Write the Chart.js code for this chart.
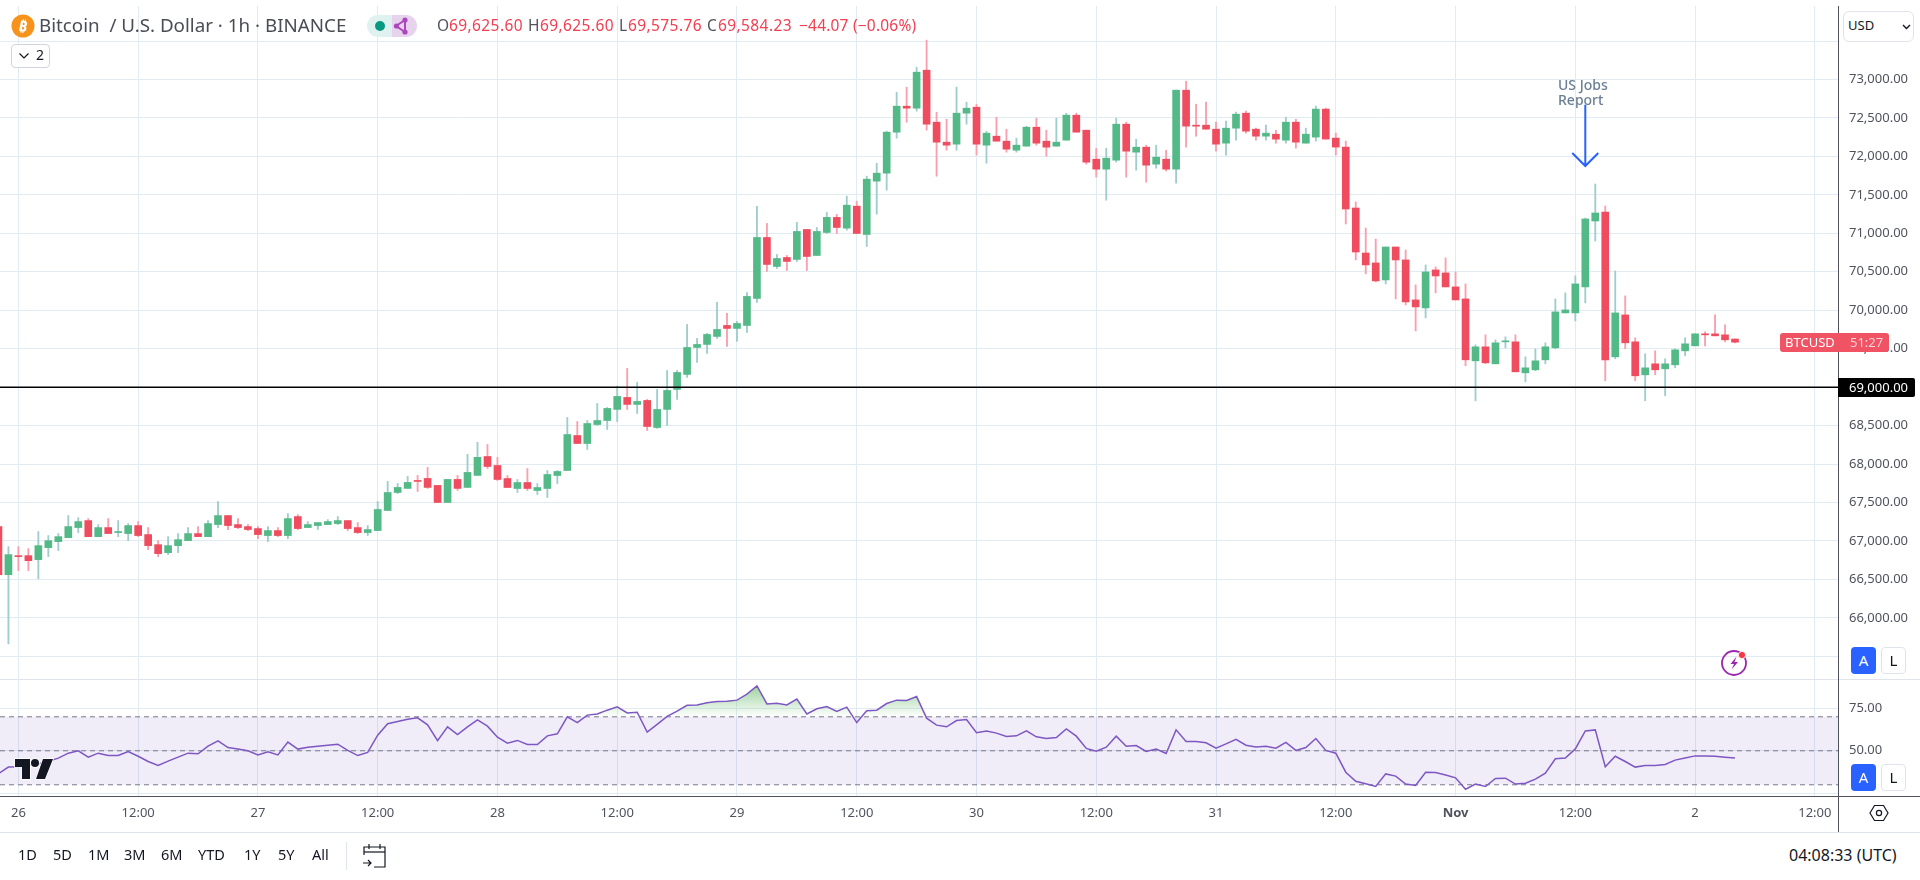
<!DOCTYPE html>
<html>
<head>
<meta charset="utf-8">
<title>BTCUSD</title>
<script src="https://cdn.jsdelivr.net/npm/chart.js@4/dist/chart.umd.min.js"></script>
<style>
  html, body { margin: 0; padding: 0; background: #fff; overflow: hidden; }
  body { width: 1920px; height: 880px; position: relative; font-family: "Noto Sans", sans-serif; color: #50535e; }
  canvas { position: absolute; left: 0; }
  #priceCanvas { top: 0; }
  #rsiCanvas { top: 679px; }
  .abs { position: absolute; white-space: nowrap; line-height: 1; }
  .line { position: absolute; }
  .red { color: #f23f52; }
  .ohlc { top: 18px; font-size: 15.5px; letter-spacing: 0.4px; }
  .ab { position: absolute; width: 25px; height: 27px; border-radius: 4px; text-align: center; font-size: 15px; line-height: 27px; box-sizing: border-box; }
  .ab.on { background: #2962ff; color: #fff; }
  .ab.off { border: 1px solid #e0e3eb; color: #131722; background: #fff; line-height: 25px; }
  .range span { position: absolute; top: 0; line-height: 1; color: #131722; }
</style>
</head>
<body>
<canvas id="priceCanvas" width="1920" height="680"></canvas>
<canvas id="rsiCanvas" width="1920" height="153"></canvas>

<!-- pane borders -->
<div class="line" style="left:0;top:679px;width:1920px;height:1px;background:#e0e3eb"></div>
<div class="line" style="left:0;top:796px;width:1920px;height:1px;background:#50535e"></div>
<div class="line" style="left:0;top:832px;width:1920px;height:1px;background:#e0e3eb"></div>
<div class="line" style="left:1838px;top:6px;width:1px;height:826px;background:#50535e"></div>

<!-- header -->
<svg class="line" style="left:11px;top:14px" width="24" height="24" viewBox="0 0 24 24">
  <circle cx="12" cy="12" r="11.5" fill="#f7931a"/>
  <text x="12" y="17.5" text-anchor="middle" font-family="Noto Sans" font-weight="700" font-size="15" fill="#fff" transform="rotate(12 12 12)">₿</text>
</svg>
<div class="abs" style="left:39px;top:16px;font-size:18.8px;color:#4a4d55">Bitcoin&nbsp; / U.S. Dollar · 1h · BINANCE</div>
<div class="line" style="left:367px;top:15px;width:25px;height:22px;background:#e0f2ef;border-radius:11px 0 0 11px"></div>
<div class="line" style="left:392px;top:15px;width:25px;height:22px;background:#e8d3ee;border-radius:0 11px 11px 0"></div>
<div class="line" style="left:375px;top:21px;width:10px;height:10px;background:#089981;border-radius:50%"></div>
<svg class="line" style="left:393px;top:17px" width="20" height="18" viewBox="0 0 20 18">
  <path d="M3 9 L12 3 L12 15 Z" fill="none" stroke="#ab47bc" stroke-width="2"/>
  <circle cx="3.5" cy="9" r="2.6" fill="#ab47bc"/><circle cx="12" cy="3" r="2.6" fill="#ab47bc"/><circle cx="12" cy="15" r="2.6" fill="#ab47bc"/>
</svg>
<div class="abs ohlc" style="left:437px">O</div>
<div class="abs ohlc red" style="left:449px">69,625.60</div>
<div class="abs ohlc" style="left:528px">H</div>
<div class="abs ohlc red" style="left:540px">69,625.60</div>
<div class="abs ohlc" style="left:619px">L</div>
<div class="abs ohlc red" style="left:628px">69,575.76</div>
<div class="abs ohlc" style="left:707px">C</div>
<div class="abs ohlc red" style="left:718px">69,584.23</div>
<div class="abs ohlc red" style="left:799px;letter-spacing:0.2px">−44.07 (−0.06%)</div>

<div class="line" style="left:11px;top:44px;width:39px;height:24px;box-sizing:border-box;border:1px solid #d1d4dc;border-radius:4px;background:#fff"></div>
<svg class="line" style="left:18px;top:52px" width="12" height="8" viewBox="0 0 12 8"><path d="M1.5 1.5 L6 6 L10.5 1.5" fill="none" stroke="#131722" stroke-width="1.2"/></svg>
<div class="abs" style="left:36px;top:48px;font-size:14px;color:#131722">2</div>

<!-- currency box -->
<div class="line" style="left:1843px;top:11px;width:71px;height:31px;box-sizing:border-box;border:1px solid #e0e3eb;border-radius:6px;background:#fff"></div>
<div class="abs" style="left:1848px;top:19px;font-size:13px;color:#131722">USD</div>
<svg class="line" style="left:1902px;top:24px" width="9" height="6" viewBox="0 0 9 6"><path d="M1 1 L4.5 4.5 L8 1" fill="none" stroke="#131722" stroke-width="1.4"/></svg>

<!-- annotation text -->
<div class="abs" style="left:1558px;top:77px;font-size:14px;font-weight:500;color:#6a7f94;line-height:15px">US Jobs<br>Report</div>

<!-- price tags -->
<div class="line" style="left:1780px;top:333px;width:109px;height:19px;background:#ef5364;border-radius:3px"></div>
<div class="abs" style="left:1785px;top:336px;font-size:13px;color:#fff">BTCUSD</div>
<div class="abs" style="left:1850px;top:336px;font-size:13px;color:#fbd5da">51:27</div>
<div class="line" style="left:1838px;top:378px;width:77px;height:19px;background:#000;border-radius:0 2px 2px 0"></div>
<div class="abs" style="left:1849px;top:381px;font-size:13px;color:#fff">69,000.00</div>

<!-- scale mode buttons -->
<div class="ab on" style="left:1851px;top:647px">A</div>
<div class="ab off" style="left:1881px;top:647px">L</div>
<div class="ab on" style="left:1851px;top:764px">A</div>
<div class="ab off" style="left:1881px;top:764px">L</div>

<!-- flash icon -->
<svg class="line" style="left:1720px;top:648px" width="30" height="30" viewBox="0 0 30 30">
  <circle cx="14" cy="15" r="12" fill="none" stroke="#9c27b0" stroke-width="1.8"/>
  <path d="M16.5 8.5 L10.5 16 L14 16 L11.5 21.5 L18 14 L14.5 14 Z" fill="#9c27b0"/>
  <circle cx="22" cy="7" r="3.6" fill="#f23645" stroke="#fff" stroke-width="0.8"/>
</svg>

<!-- watermark -->
<svg class="line" style="left:13px;top:757px" width="42" height="24" viewBox="0 0 42 24">
  <g fill="#131722" stroke="#fff" stroke-width="1.6" paint-order="stroke">
    <path d="M2 2 H17 V22 H9 V10 H2 Z"/>
    <circle cx="22" cy="6" r="4"/>
    <path d="M30 2 H40 L32 22 H23 Z"/>
  </g>
</svg>

<!-- settings hexagon -->
<svg class="line" style="left:1869px;top:803px" width="20" height="20" viewBox="0 0 20 20">
  <path d="M5.5 2.5 H14.5 L19 10 L14.5 17.5 H5.5 L1 10 Z" fill="none" stroke="#131722" stroke-width="1.2"/>
  <circle cx="10" cy="10" r="2.6" fill="none" stroke="#131722" stroke-width="1.2"/>
</svg>

<!-- bottom toolbar -->
<div class="range" style="position:absolute;left:0;top:847px;font-size:14.5px">
  <span style="left:18px">1D</span><span style="left:53px">5D</span><span style="left:88px">1M</span>
  <span style="left:124px">3M</span><span style="left:161px">6M</span><span style="left:198px">YTD</span>
  <span style="left:244px">1Y</span><span style="left:278px">5Y</span><span style="left:312px">All</span>
</div>
<div class="line" style="left:346px;top:842px;width:1px;height:28px;background:#e0e3eb"></div>
<svg class="line" style="left:362px;top:842px" width="26" height="28" viewBox="0 0 26 28">
  <g fill="none" stroke="#131722" stroke-width="1.2">
    <path d="M2 13 V5 H23 V25 H12"/><path d="M2 10 H23"/><path d="M7 2 V7 M18 2 V7"/>
    <path d="M1 21 H9 M6 18 L9 21 L6 24"/>
  </g>
</svg>
<div class="abs" style="left:1789px;top:847px;font-size:16px;color:#131722">04:08:33 (UTC)</div>

<script>
// BTCUSD 1h, hourly bars from just before Oct 26 to Nov 2
const opens = [
  67187,66561,66809,66809,66757,66913,66991,67043,67174,67265,67056,67174,
  67109,67096,67200,67083,66952,66848,66939,67004,67096,67056,67213,67330,
  67213,67187,67161,67070,67135,67070,67317,67174,67200,67213,67226,67265,
  67174,67109,67135,67396,67630,67683,67787,67813,67722,67500,67800,67696,
  67852,68098,67981,67812,67682,67760,67656,67682,67851,67916,68371,68267,
  68514,68566,68710,68866,68775,68827,68475,68710,68970,69165,69516,69555,
  69659,69802,69763,69802,70153,70946,70569,70686,70660,71050,70712,71011,
  71207,71067,71353,70985,71678,71782,72315,72653,72627,73121,72445,72185,
  72159,72562,72640,72146,72263,72198,72081,72133,72380,72198,72133,72211,
  72536,72341,71964,71834,71951,72419,72055,72120,71899,71964,71834,72861,
  72406,72406,72354,72172,72367,72562,72354,72263,72289,72211,72445,72172,
  72251,72615,72238,72121,71329,70744,70615,70394,70822,70654,70134,70030,
  70524,70485,70303,70147,69342,69524,69303,69589,69589,69186,69225,69355,
  69511,69965,69965,70303,71160,71277,69394,69939,69589,69160,69303,69238,
  69290,69472,69537,69693,69693,69680,69625.6
];
const highs = [
  67200,66926,66926,66900,67122,67070,67096,67330,67304,67291,67213,67291,
  67265,67226,67252,67174,67004,67056,67096,67174,67187,67265,67513,67330,
  67291,67213,67187,67187,67174,67356,67343,67252,67239,67278,67317,67265,
  67239,67200,67513,67774,67748,67839,67852,67956,67722,67800,67852,68126,
  68283,68254,68085,67851,67799,67942,67747,67916,67916,68605,68553,68566,
  68788,68736,69013,69243,69061,68840,68970,69217,69217,69815,69633,69698,
  70101,69958,69854,70231,71350,71129,70725,70712,71142,71050,71076,71272,
  71246,71483,71418,71743,71912,72328,72835,72900,73160,73512,72575,72484,
  72900,72705,72679,72328,72510,72354,72237,72393,72497,72341,72497,72562,
  72562,72341,72107,72107,72497,72445,72224,72146,72146,72081,72861,72978,
  72679,72705,72445,72458,72575,72588,72367,72406,72341,72510,72484,72367,
  72654,72628,72303,72199,71407,71069,70926,70822,70822,70783,70329,70589,
  70563,70680,70498,70342,69550,69680,69615,69654,69680,69394,69498,69576,
  70147,70225,70446,71199,71641,71355,70511,70186,69641,69433,69472,69368,
  69498,69641,69693,69718,69939,69809,69625.6
];
const lows = [
  66540,65661,66613,66613,66509,66796,66874,67043,67109,67056,67056,67096,
  67056,67004,67056,66887,66796,66822,66848,67004,67056,67056,67174,67148,
  67161,67135,67030,66991,67056,67030,67148,67174,67148,67213,67213,67135,
  67096,67070,67135,67396,67617,67683,67643,67683,67500,67500,67657,67696,
  67852,67942,67786,67695,67630,67656,67604,67565,67747,67916,68267,68189,
  68501,68449,68553,68710,68657,68436,68462,68501,68840,69126,69321,69438,
  69633,69529,69594,69711,70101,70504,70543,70517,70634,70517,70712,70998,
  70998,71041,70998,70829,71249,71561,72237,72445,72588,72341,71743,72081,
  72081,72419,72016,71912,72198,72055,72055,72133,72146,72003,72133,72211,
  72315,71899,71730,71431,71925,71730,71821,71665,71847,71808,71652,72120,
  72263,72354,72068,72016,72211,72302,72211,72211,72172,72172,72107,72172,
  72199,72225,72017,71121,70654,70472,70368,70342,70147,70069,69732,69900,
  70225,70303,70134,69277,68823,69303,69303,69511,69199,69069,69212,69303,
  69498,69965,69861,70095,70900,69082,69368,69498,69082,68823,69160,68887,
  69251,69407,69537,69537,69667,69589,69575.76
];
const closes = [
  66561,66822,66796,66743,66939,67004,67056,67187,67252,67056,67174,67096,
  67122,67200,67070,66939,66835,66939,67017,67096,67056,67226,67330,67200,
  67174,67148,67083,67135,67070,67291,67161,67213,67239,67252,67265,67161,
  67109,67148,67409,67630,67696,67761,67774,67696,67500,67800,67683,67891,
  68087,67968,67799,67695,67760,67682,67695,67864,67903,68384,68267,68527,
  68566,68723,68879,68775,68814,68488,68710,68957,69191,69516,69555,69685,
  69750,69763,69828,70179,70946,70595,70673,70634,71024,70699,71024,71207,
  71076,71366,70998,71704,71782,72315,72653,72627,73095,72419,72185,72146,
  72562,72627,72159,72302,72198,72094,72146,72380,72172,72120,72185,72536,
  72315,71925,71834,71977,72419,72068,72120,71886,71990,71834,72861,72393,
  72393,72354,72159,72367,72549,72328,72263,72302,72224,72445,72185,72289,
  72615,72225,72121,71316,70757,70589,70381,70822,70654,70108,70043,70498,
  70446,70303,70134,69355,69524,69316,69576,69602,69199,69251,69342,69524,
  69978,70004,70342,71186,71264,69355,69965,69576,69147,69251,69225,69303,
  69485,69563,69693,69680,69667,69615,69584.23
];
const rsiValues = [
  36.5,40.4,40.6,41.2,42.3,43.9,45.7,48.6,50.0,46.3,48.6,47.2,
  47.2,49.6,46.8,43.7,41.4,43.9,46.3,48.6,48.2,52.7,55.9,51.9,
  51.0,50.0,47.6,49.4,47.6,55.1,51.0,52.1,52.7,53.3,53.9,50.2,
  47.2,49.0,59.2,65.9,67.2,68.6,69.4,65.3,55.9,64.1,59.6,64.1,
  68.2,64.5,58.0,54.5,56.1,53.7,53.7,58.8,60.0,70.0,66.6,71.0,
  71.7,73.9,75.9,72.3,72.7,61.0,65.5,70.2,73.3,76.8,77.0,78.2,
  79.0,79.2,79.8,83.3,88.2,77.6,78.0,77.0,80.4,71.7,74.7,76.0,
  73.1,75.7,66.6,73.5,73.9,77.8,79.8,79.6,81.9,69.2,65.1,64.1,
  67.8,68.4,60.6,61.7,60.4,58.4,58.8,61.7,58.2,57.2,57.8,62.9,
  58.6,51.4,49.8,52.1,58.6,52.7,53.1,49.6,51.0,48.4,62.3,55.5,
  55.5,54.7,51.5,54.1,56.8,53.3,52.3,52.7,51.5,54.9,50.2,51.9,
  57.2,50.2,48.6,37.4,32.1,30.6,29.0,36.4,35.1,30.4,29.6,37.4,
  37.2,35.7,34.1,27.4,30.4,29.0,33.7,33.9,30.4,30.9,33.3,36.8,
  45.3,45.7,51.1,61.7,62.3,40.6,46.8,43.7,40.4,41.3,41.3,41.9,
  44.5,45.7,47.0,47.0,46.8,46.2,45.7
];

// first bar sits two hours before the "26" tick
const barIndex = opens.map((_, i) => i - 2);

const priceTicks = [73500,73000,72500,72000,71500,71000,70500,70000,69500,69000,68500,68000,67500,67000,66500,66000,65500];
const hiddenPriceLabels = [73500, 65500];
const rsiTicks = [75, 50, 25];
const hiddenRsiLabels = [25];
const rsiBands = [70, 50, 30];
const timeTicks = [0,12,24,36,48,60,72,84,96,108,120,132,144,156,168,180];
const timeLabels = ["26","12:00","27","12:00","28","12:00","29","12:00","30","12:00","31","12:00","Nov","12:00","2","12:00"];

const supportLevel = 69000;
const jobsArrowBar = 157;
const jobsArrowFrom = 72670;
const jobsArrowTo = 71875;

const xMin = -1.844;
const xMax = 182.32;

const UP = "#53b987";
const DOWN = "#ef4d5f";
const UP_WICK = "#9fcdcd";
const DOWN_WICK = "#f99fad";
const GRID = "#e1ecf2";
const TEXT = "#50535e";
const AXIS_FONT = { family: "Noto Sans", size: 13 };

const isUp = barIndex.map((_, i) => closes[i] >= opens[i]);

// keep the plot areas at exact sizes, labels must not push them in
function fixAxisSize(axis, size) {
  if (axis.isHorizontal()) axis.height = size;
  else axis.width = size;
  axis.paddingTop = 0;
  axis.paddingBottom = 0;
  axis.paddingLeft = 0;
  axis.paddingRight = 0;
}

const xScaleBase = {
  type: "linear",
  min: xMin,
  max: xMax,
  offset: false,
  border: { display: false },
  grid: { color: GRID, drawTicks: false, offset: false },
  afterBuildTicks: axis => { axis.ticks = timeTicks.map(value => ({ value })); }
};

// blue arrow over the jobs report bar
const jobsArrowPlugin = {
  id: "jobsArrow",
  afterDatasetsDraw(chart) {
    const { x, y } = chart.scales;
    const px = x.getPixelForValue(jobsArrowBar);
    const top = y.getPixelForValue(jobsArrowFrom);
    const tip = y.getPixelForValue(jobsArrowTo);
    const ctx = chart.ctx;
    ctx.save();
    ctx.strokeStyle = "#2962ff";
    ctx.lineWidth = 2;
    ctx.beginPath();
    ctx.moveTo(px, top);
    ctx.lineTo(px, tip);
    ctx.moveTo(px - 13, tip - 13);
    ctx.lineTo(px, tip);
    ctx.lineTo(px + 13, tip - 13);
    ctx.stroke();
    ctx.restore();
  }
};

new Chart(document.getElementById("priceCanvas"), {
  data: {
    datasets: [
      {
        type: "line",
        order: 0,
        data: [{ x: xMin, y: supportLevel }, { x: xMax, y: supportLevel }],
        borderColor: "#000",
        borderWidth: 1.5,
        pointRadius: 0
      },
      {
        type: "bar",
        order: 1,
        grouped: false,
        barThickness: 7,
        minBarLength: 1,
        borderSkipped: false,
        data: barIndex.map((x, i) => ({ x, y: [opens[i], closes[i]] })),
        backgroundColor: isUp.map(up => (up ? UP : DOWN))
      },
      {
        type: "bar",
        order: 2,
        grouped: false,
        barThickness: 1.2,
        borderSkipped: false,
        data: barIndex.map((x, i) => ({ x, y: [lows[i], highs[i]] })),
        backgroundColor: isUp.map(up => (up ? UP_WICK : DOWN_WICK))
      }
    ]
  },
  options: {
    responsive: false,
    animation: false,
    devicePixelRatio: 1,
    layout: { autoPadding: false, padding: { top: 6, left: 0, right: 0, bottom: 1 } },
    plugins: { legend: { display: false }, tooltip: { enabled: false } },
    scales: {
      x: {
        ...xScaleBase,
        ticks: { display: false },
        afterFit: axis => fixAxisSize(axis, 0)
      },
      y: {
        position: "right",
        min: 65205,
        max: 73955.6,
        border: { display: false },
        grid: { color: GRID, drawTicks: false },
        afterBuildTicks: axis => { axis.ticks = priceTicks.map(value => ({ value })); },
        afterFit: axis => fixAxisSize(axis, 82),
        ticks: {
          autoSkip: false,
          padding: 11,
          color: TEXT,
          font: AXIS_FONT,
          callback: value => hiddenPriceLabels.includes(value)
            ? ""
            : value.toLocaleString("en-US", { minimumFractionDigits: 2 })
        }
      }
    }
  },
  plugins: [jobsArrowPlugin]
});

const rsiChart = new Chart(document.getElementById("rsiCanvas"), {
  type: "line",
  data: {
    datasets: [
      {
        data: barIndex.map((x, i) => ({ x, y: rsiValues[i] })),
        borderColor: "#7e57c2",
        borderWidth: 1.5,
        pointRadius: 0,
        tension: 0,
        fill: { value: rsiBands[0], above: "rgba(76,175,80,0.3)", below: "transparent" }
      },
      {
        // purple band between the upper and lower levels
        data: [{ x: xMin, y: rsiBands[0] }, { x: xMax, y: rsiBands[0] }],
        borderWidth: 0,
        pointRadius: 0,
        fill: { value: rsiBands[2], above: "rgba(126,87,194,0.115)", below: "rgba(126,87,194,0.115)" }
      },
      ...rsiBands.map(level => ({
        data: [{ x: xMin, y: level }, { x: xMax, y: level }],
        borderColor: "#787b86",
        borderWidth: 1,
        borderDash: [5, 4],
        pointRadius: 0,
        fill: false
      }))
    ]
  },
  options: {
    responsive: false,
    animation: false,
    devicePixelRatio: 1,
    layout: { autoPadding: false, padding: { top: 1, left: 0, right: 0, bottom: 0 } },
    plugins: { legend: { display: false }, tooltip: { enabled: false } },
    scales: {
      x: {
        ...xScaleBase,
        afterFit: axis => fixAxisSize(axis, 36),
        ticks: {
          autoSkip: false,
          maxRotation: 0,
          padding: 9,
          color: TEXT,
          font: ctx => ({
            ...AXIS_FONT,
            weight: timeLabels[ctx.index] === "Nov" ? "700" : "400"
          }),
          callback: (value, index) => timeLabels[index]
        }
      },
      y: {
        position: "right",
        min: 23.4,
        max: 91.65,
        border: { display: false },
        grid: { color: GRID, drawTicks: false },
        afterBuildTicks: axis => { axis.ticks = rsiTicks.map(value => ({ value })); },
        afterFit: axis => fixAxisSize(axis, 82),
        ticks: {
          autoSkip: false,
          padding: 11,
          color: TEXT,
          font: AXIS_FONT,
          callback: value => hiddenRsiLabels.includes(value) ? "" : value.toFixed(2)
        }
      }
    }
  }
});

// fade the overbought fill out towards the upper band
const yRsi = rsiChart.scales.y;
const overbought = rsiChart.ctx.createLinearGradient(0, yRsi.getPixelForValue(88), 0, yRsi.getPixelForValue(rsiBands[0]));
overbought.addColorStop(0, "rgba(76,175,80,0.55)");
overbought.addColorStop(1, "rgba(76,175,80,0)");
rsiChart.data.datasets[0].fill.above = overbought;
rsiChart.update("none");
</script>
</body>
</html>
